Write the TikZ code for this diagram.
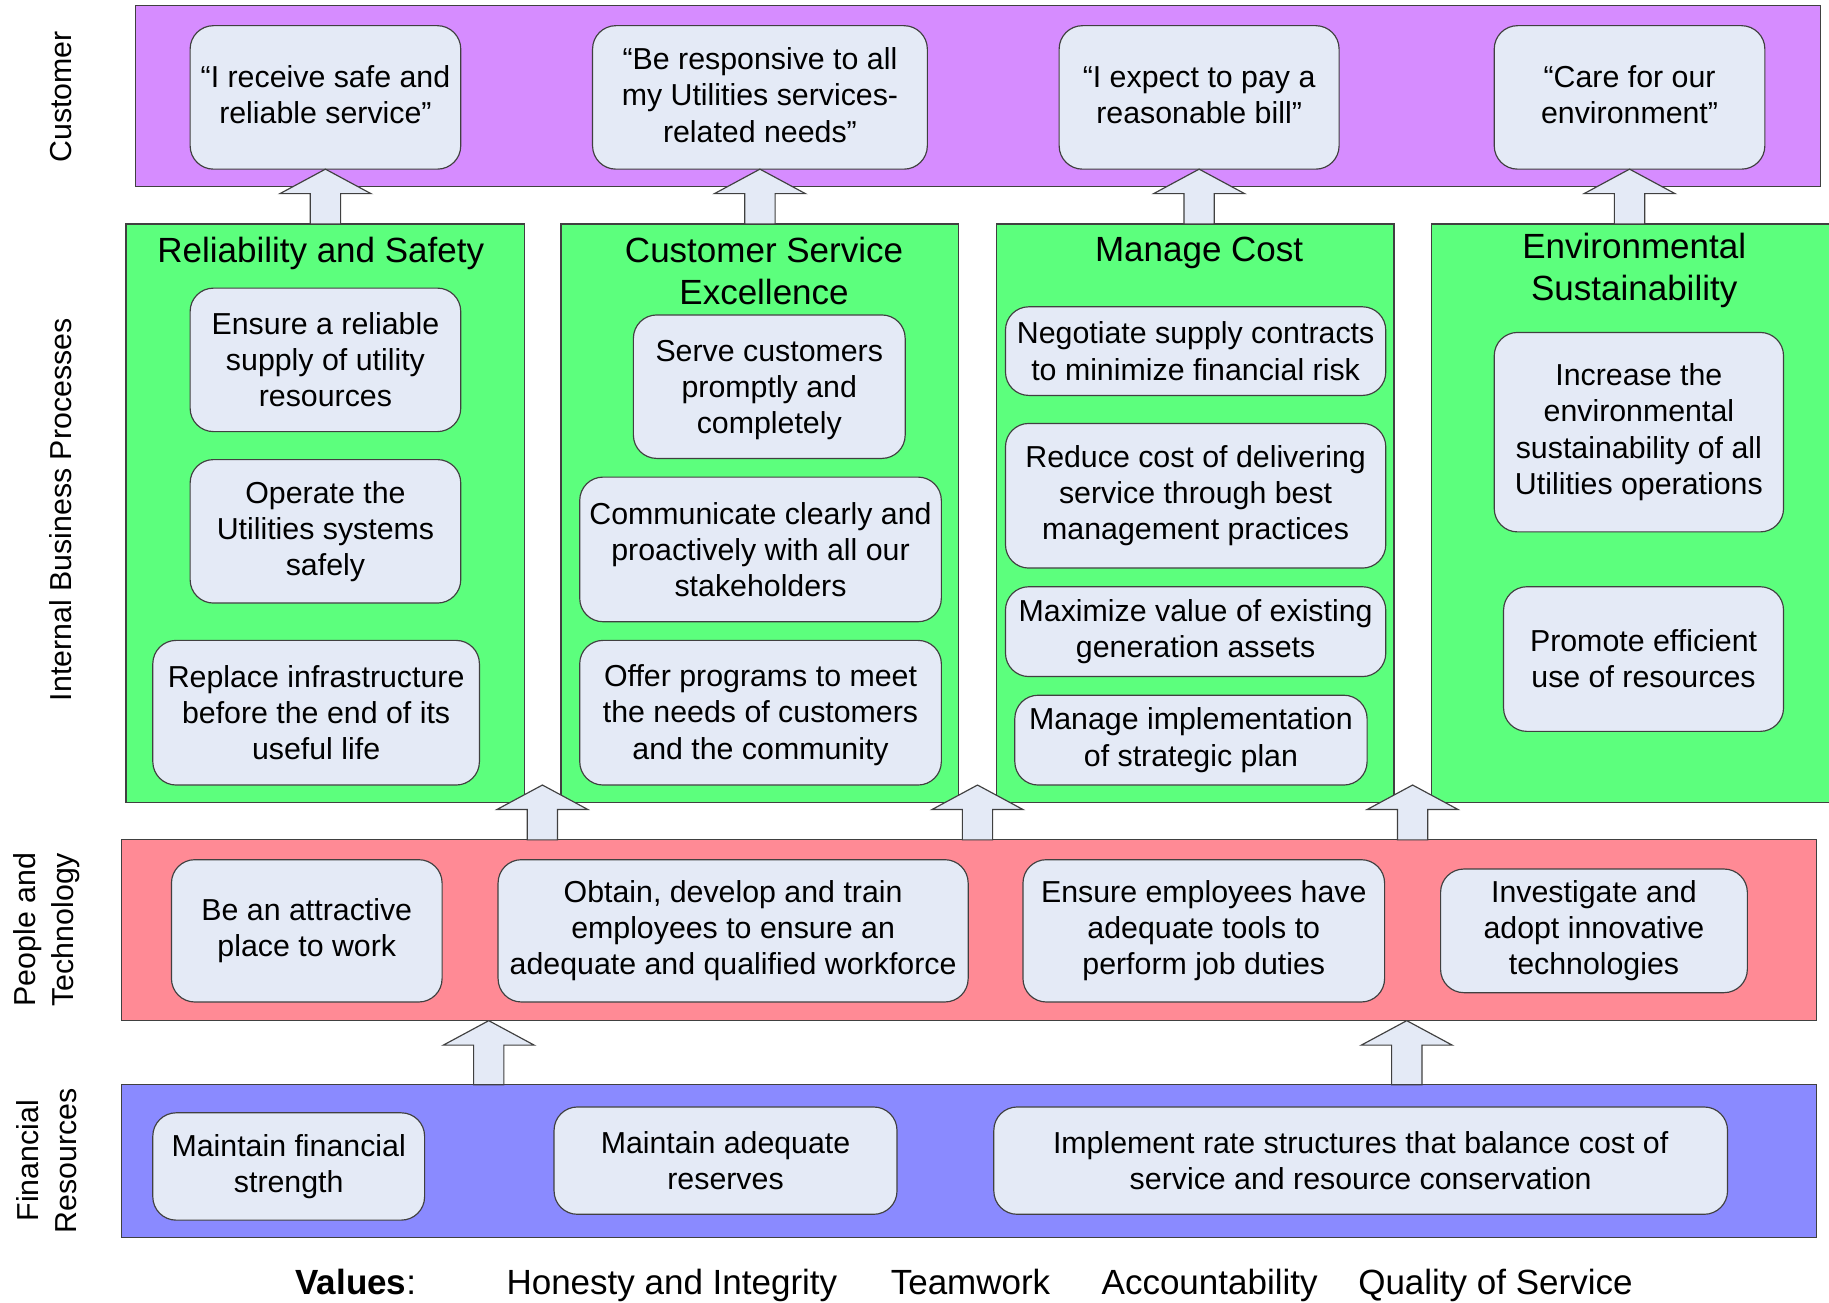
\documentclass[tikz,border=0pt]{standalone}
\usepackage{fontspec}
\setmainfont{Liberation Sans}
\usetikzlibrary{calc}
\definecolor{custc}{HTML}{D68CFF}
\definecolor{ibpc}{HTML}{5CFF7D}
\definecolor{pplc}{HTML}{FF8A95}
\definecolor{finc}{HTML}{8A8AFF}
\definecolor{boxfill}{HTML}{E4EAF6}
\definecolor{edge}{HTML}{404040}
\newcommand\gbox[6]{\node[goal, txt, minimum width={#4-#2}, minimum height={#5-#3}] (#1) at ({(#2+#4)/2},{(#3+#5)/2}) {#6};}
\newcommand\gboxo[7]{\node[goal, txt, minimum width={#4-#2}, minimum height={#5-#3}] (#1) at ({(#2+#4)/2},{(#3+#5)/2}) {};
 \node[txt] (#1t) at ($(#1.center)+(0,#6)$) {#7};}
\newcommand\bandbox[6]{\node[band, fill=#6, minimum width={#4-#2}, minimum height={#5-#3}] (#1) at ({(#2+#4)/2},{(#3+#5)/2}) {};}
\newcommand\barr[2]{\path[barrow] let \p1=#1, \p2=#2 in (\x1,\y1) -- (\x1+39pt,\y1-21pt) -- (\x1+13pt,\y1-21pt) -- (\x1+13pt,\y2) -- (\x1-13pt,\y2) -- (\x1-13pt,\y1-21pt) -- (\x1-39pt,\y1-21pt) -- cycle;}
\begin{document}
\begin{tikzpicture}[x=1pt,y=-1pt,
 every node/.style={outer sep=0pt},
 band/.style={draw=edge, line width=1pt, inner sep=0pt},
 goal/.style={draw=edge, fill=boxfill, rounded corners=20pt, line width=1pt},
 txt/.style={align=center, font=\fontsize{26}{31}\selectfont, inner sep=0pt},
 headtxt/.style={align=center, font=\fontsize{30}{36}\selectfont, inner sep=0pt},
 side/.style={align=center, font=\fontsize{26}{32}\selectfont, rotate=90, inner sep=0pt},
 valtxt/.style={anchor=base, font=\fontsize{30}{36}\selectfont, inner sep=0pt},
 barrow/.style={draw=edge, fill=boxfill, line width=1pt, line join=miter}]
\useasboundingbox[fill=white] (0,0) rectangle (1568,1117);

% bands
\bandbox{cust}{116}{5}{1561}{160}{custc}
\bandbox{g1}{108}{192}{450}{688}{ibpc}
\bandbox{g2}{481}{192}{822}{688}{ibpc}
\bandbox{g3}{854}{192}{1195}{688}{ibpc}
\bandbox{g4}{1227}{192}{1580}{688}{ibpc}
\bandbox{ppl}{104}{720}{1557}{875}{pplc}
\bandbox{fin}{104}{930}{1557}{1061}{finc}

% side labels
\node[side] (lcust) at (52,83) {Customer};
\node[side] (libp) at (52,437) {Internal Business Processes};
\node[side] (lppl) at (40,797) {People and\\Technology};
\node[side] (lfin) at (40,995) {Financial\\Resources};

% customer goals
\gboxo{c1}{163}{22}{395}{145}{-2}{“I receive safe and\\reliable service”}
\gboxo{c2}{508}{22}{795}{145}{-2}{“Be responsive to all\\my Utilities services-\\related needs”}
\gboxo{c3}{908}{22}{1148}{145}{-2}{“I expect to pay a\\reasonable bill”}
\gboxo{c4}{1281}{22}{1513}{145}{-2}{“Care for our\\environment”}

% headings
\node[headtxt] (h1) at (275,217) {Reliability and Safety};
\node[headtxt] (h2) at (655,232) {Customer Service\\Excellence};
\node[headtxt] (h3) at (1028,217) {Manage Cost};
\node[headtxt] (h4) at (1401,232) {Environmental\\Sustainability};

% internal processes
\gbox{r1}{163}{247}{395}{370}{Ensure a reliable\\supply of utility\\resources}
\gbox{r2}{163}{394}{395}{517}{Operate the\\Utilities systems\\safely}
\gbox{r3}{131}{549}{411}{673}{Replace infrastructure\\before the end of its\\useful life}
\gboxo{s1}{543}{270}{776}{393}{3}{Serve customers\\promptly and\\completely}
\gbox{s2}{497}{409}{807}{533}{Communicate clearly and\\proactively with all our\\stakeholders}
\gboxo{s3}{497}{549}{807}{673}{2}{Offer programs to meet\\the needs of customers\\and the community}
\gbox{m1}{862}{263}{1188}{339}{Negotiate supply contracts\\to minimize financial risk}
\gbox{m2}{862}{363}{1188}{487}{Reduce cost of delivering\\service through best\\management practices}
\gbox{m3}{862}{503}{1188}{580}{Maximize value of existing\\generation assets}
\gbox{m4}{870}{596}{1172}{673}{Manage implementation\\of strategic plan}
\gbox{e1}{1281}{285}{1529}{456}{Increase the\\environmental\\sustainability of all\\Utilities operations}
\gbox{e2}{1289}{503}{1529}{627}{Promote efficient\\use of resources}

% people and technology
\gbox{p1}{147}{737}{379}{859}{Be an attractive\\place to work}
\gbox{p2}{427}{737}{830}{859}{Obtain, develop and train\\employees to ensure an\\adequate and qualified workforce}
\gbox{p3}{877}{737}{1187}{859}{Ensure employees have\\adequate tools to\\perform job duties}
\gbox{p4}{1235}{745}{1498}{851}{Investigate and\\adopt innovative\\technologies}

% financial
\gbox{f1}{131}{954}{364}{1046}{Maintain financial\\strength}
\gbox{f2}{475}{949}{769}{1041}{Maintain adequate\\reserves}
\gbox{f3}{852}{949}{1481}{1041}{Implement rate structures that balance cost of\\service and resource conservation}

% arrows
\barr{(c1.south)}{(g1.north)}
\barr{(c2.south)}{(g2.north)}
\barr{(c3.south)}{(g3.north)}
\barr{(c4.south)}{(g4.north)}
\coordinate (t1) at (465,673);
\coordinate (t2) at (838,673);
\coordinate (t3) at (1211,673);
\barr{(t1)}{(ppl.north)}
\barr{(t2)}{(ppl.north)}
\barr{(t3)}{(ppl.north)}
\coordinate (u1) at (419,875);
\coordinate (u2) at (1206,875);
\barr{(u1)}{(fin.north)}
\barr{(u2)}{(fin.north)}

% values
\node[valtxt] (v0) at (305,1110) {\textbf{Values}:};
\node[valtxt] (v1) at (576,1110) {Honesty and Integrity};
\node[valtxt] (v2) at (832,1110) {Teamwork};
\node[valtxt] (v3) at (1037,1110) {Accountability};
\node[valtxt] (v4) at (1282,1110) {Quality of Service};
\end{tikzpicture}
\end{document}
